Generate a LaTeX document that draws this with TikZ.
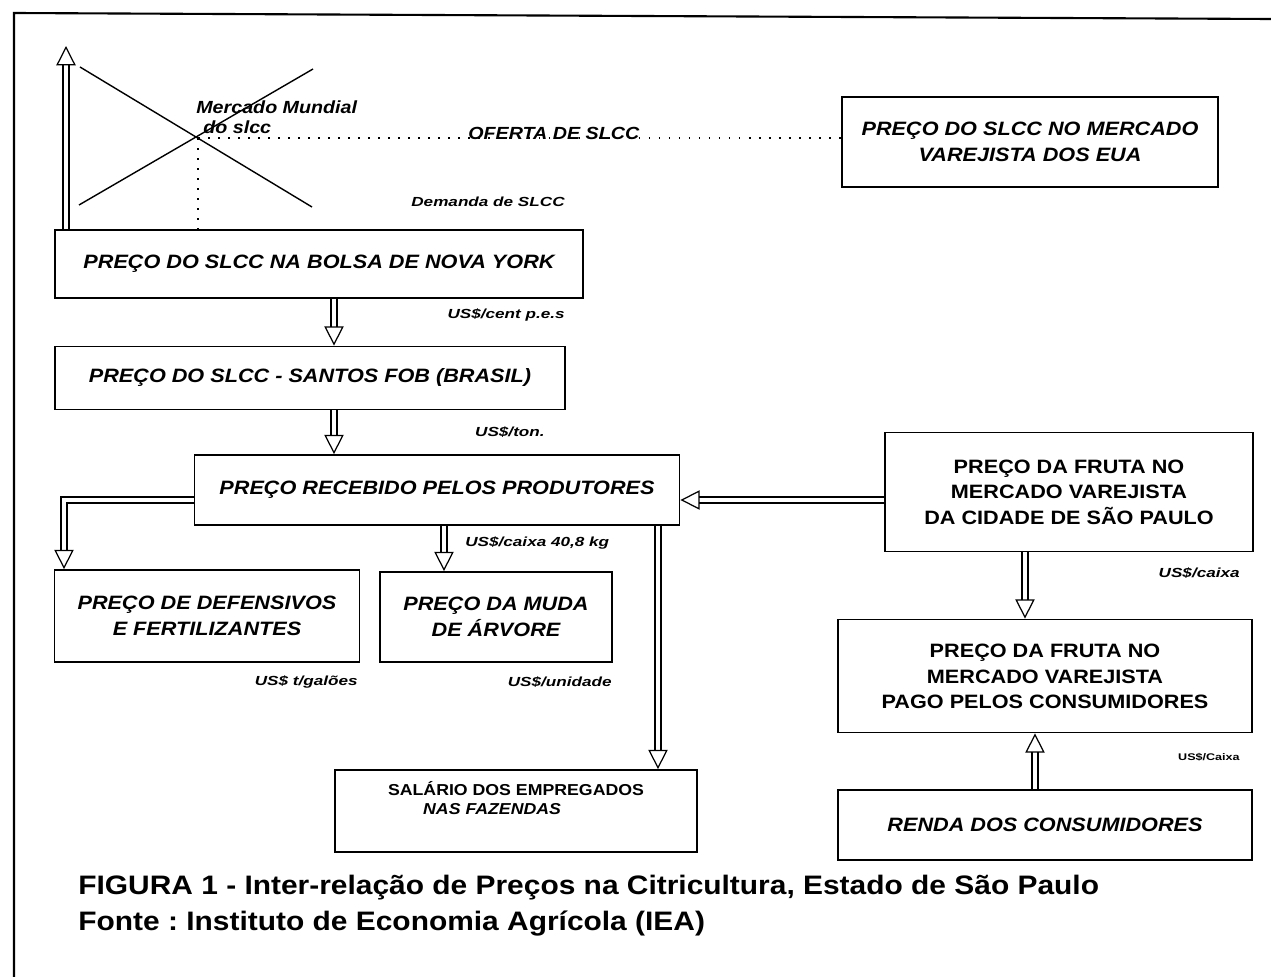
\documentclass[tikz,border=0pt]{standalone}
\usepackage{fontspec}
\setmainfont{Liberation Sans}
\newfontfamily\widefont[FakeStretch=1.12]{Liberation Sans}
\newfontfamily\unitfont[FakeStretch=1.3]{Liberation Sans}
\usetikzlibrary{arrows.meta,positioning,calc}
\frenchspacing

\begin{document}
\begin{tikzpicture}[x=0.2mm, y=-0.2mm]
% Define block styles
\tikzstyle{block} = [rectangle, draw, line width=1pt, inner sep=2pt, align=center,
    font=\widefont\bfseries\itshape\fontsize{11}{14.5}\selectfont]
\tikzstyle{blockup} = [block, font=\widefont\bfseries\fontsize{11}{14.5}\selectfont]
\tikzstyle{unit} = [inner sep=0pt, font=\unitfont\bfseries\itshape\fontsize{7.5}{8}\selectfont]
\tikzstyle{mlabel} = [inner sep=0pt, align=left, font=\widefont\bfseries\itshape\fontsize{10}{11.5}\selectfont]
\tikzstyle{caption} = [inner sep=0pt, anchor=west, font=\widefont\bfseries\fontsize{15.2}{18}\selectfont]
\tikzstyle{hollow} = [draw, double, double distance=2.8pt, line width=0.7pt,
    -{Triangle[open, length=11pt, width=11pt]}]
\tikzstyle{dots} = [draw, line width=1pt, dash pattern=on 0.9pt off 4.8pt]

\useasboundingbox (0,0) rectangle (1271,977);
% frame
\draw [line width=1.2pt] (14,977) -- (14,13) -- (1271,19);

% world market cross
\draw [line width=0.8pt] (80,67) -- (312,207);
\draw [line width=0.8pt] (79,205) -- (313,69);
\coordinate (eq) at (198,138);

% Place nodes
\node [block, minimum width=75.2mm, minimum height=18mm] (us) at (1030,142)
    {PREÇO DO SLCC NO MERCADO\\VAREJISTA DOS EUA};
\node [block, minimum width=105.6mm, minimum height=13.6mm] (ny) at (319,264)
    {PREÇO DO SLCC NA BOLSA DE NOVA YORK};
\node [block, minimum width=102mm, minimum height=12.6mm] (santos) at (310,378)
    {PREÇO DO SLCC - SANTOS FOB (BRASIL)};
\node [block, minimum width=97mm, minimum height=14mm] (rec) at (437,490)
    {PREÇO RECEBIDO PELOS PRODUTORES};
\node [block, minimum width=61mm, minimum height=18.4mm] (def) at (207,616)
    {PREÇO DE DEFENSIVOS\\E FERTILIZANTES};
\node [block, minimum width=46.4mm, minimum height=18mm] (muda) at (496,617)
    {PREÇO DA MUDA\\DE ÁRVORE};
\node [block, minimum width=72.4mm, minimum height=16.4mm, align=left,
    font=\widefont\bfseries\itshape\fontsize{9}{11}\selectfont] (sal) at (516,811)
    {\upshape SALÁRIO DOS EMPREGADOS\\\hspace*{20pt}NAS FAZENDAS\\[4pt]\mbox{}};
\node [blockup, minimum width=73.6mm, minimum height=23.8mm] (frutasp) at (1069,492)
    {PREÇO DA FRUTA NO\\MERCADO VAREJISTA\\DA CIDADE DE SÃO PAULO};
\node [blockup, minimum width=82.8mm, minimum height=22.6mm] (frutacons) at (1045,676)
    {\mbox{}\\[-6pt]PREÇO DA FRUTA NO\\MERCADO VAREJISTA\\PAGO PELOS CONSUMIDORES};
\node [block, minimum width=82.8mm, minimum height=14mm] (renda) at (1045,825)
    {RENDA DOS CONSUMIDORES};

% labels
\node [mlabel, anchor=west] (mundial) at (196,117) {Mercado Mundial\\\hspace*{4pt}do slcc};
\node [mlabel, anchor=base west] (oferta) at (468,140) {OFERTA DE SLCC};
\node [unit, anchor=east] (demanda) at (565,202) {Demanda de SLCC};
\node [unit, anchor=east] (uny) at (565,315) {US\$/cent p.e.s};
\node [unit, anchor=east] (usantos) at (545,432) {US\$/ton.};
\node [unit, anchor=west] (urec) at (465,543) {US\$/caixa 40,8 kg};
\node [unit, anchor=east] (udef) at (358,682) {US\$ t/galões};
\node [unit, anchor=east] (umuda) at (612,682) {US\$/unidade};
\node [unit, anchor=east] (ufruta) at (1240,573) {US\$/caixa};
\node [unit, anchor=east, font=\unitfont\bfseries\fontsize{5.5}{6}\selectfont] (urenda) at (1240,757) {US\$/Caixa};

\node [caption] (figura) at (78,888)
    {FIGURA 1 - Inter-relação de Preços na Citricultura, Estado de São Paulo};
\node [caption] (fonte) at (78,924) {Fonte : Instituto de Economia Agrícola (IEA)};

% columns of the arrows
\coordinate (colA) at (334,0);
\coordinate (colB) at (64,0);
\coordinate (colC) at (444,0);
\coordinate (colD) at (658,0);
\coordinate (colE) at (1025,0);
\coordinate (colF) at (1035,0);
\coordinate (rowA) at (0,500);
\coordinate (top) at (66,46);

% Draw edges
\path [dots] (eq) -- (eq -| us.west);
\path [dots] (eq) -- (eq |- ny.north);
\path [hollow] (ny.north -| top) -- (top);
\path [hollow] (ny.south -| colA) -- (santos.north -| colA);
\path [hollow] (santos.south -| colA) -- (rec.north -| colA);
\path [hollow] (rec.west |- rowA) -| (def.north -| colB);
\path [hollow] (rec.south -| colC) -- (muda.north -| colC);
\path [hollow] (rec.south -| colD) -- (sal.north -| colD);
\path [hollow] (frutasp.west |- rowA) -- (rec.east |- rowA);
\path [hollow] (frutasp.south -| colE) -- (frutacons.north -| colE);
\path [hollow] (renda.north -| colF) -- (frutacons.south -| colF);
\end{tikzpicture}
\end{document}
